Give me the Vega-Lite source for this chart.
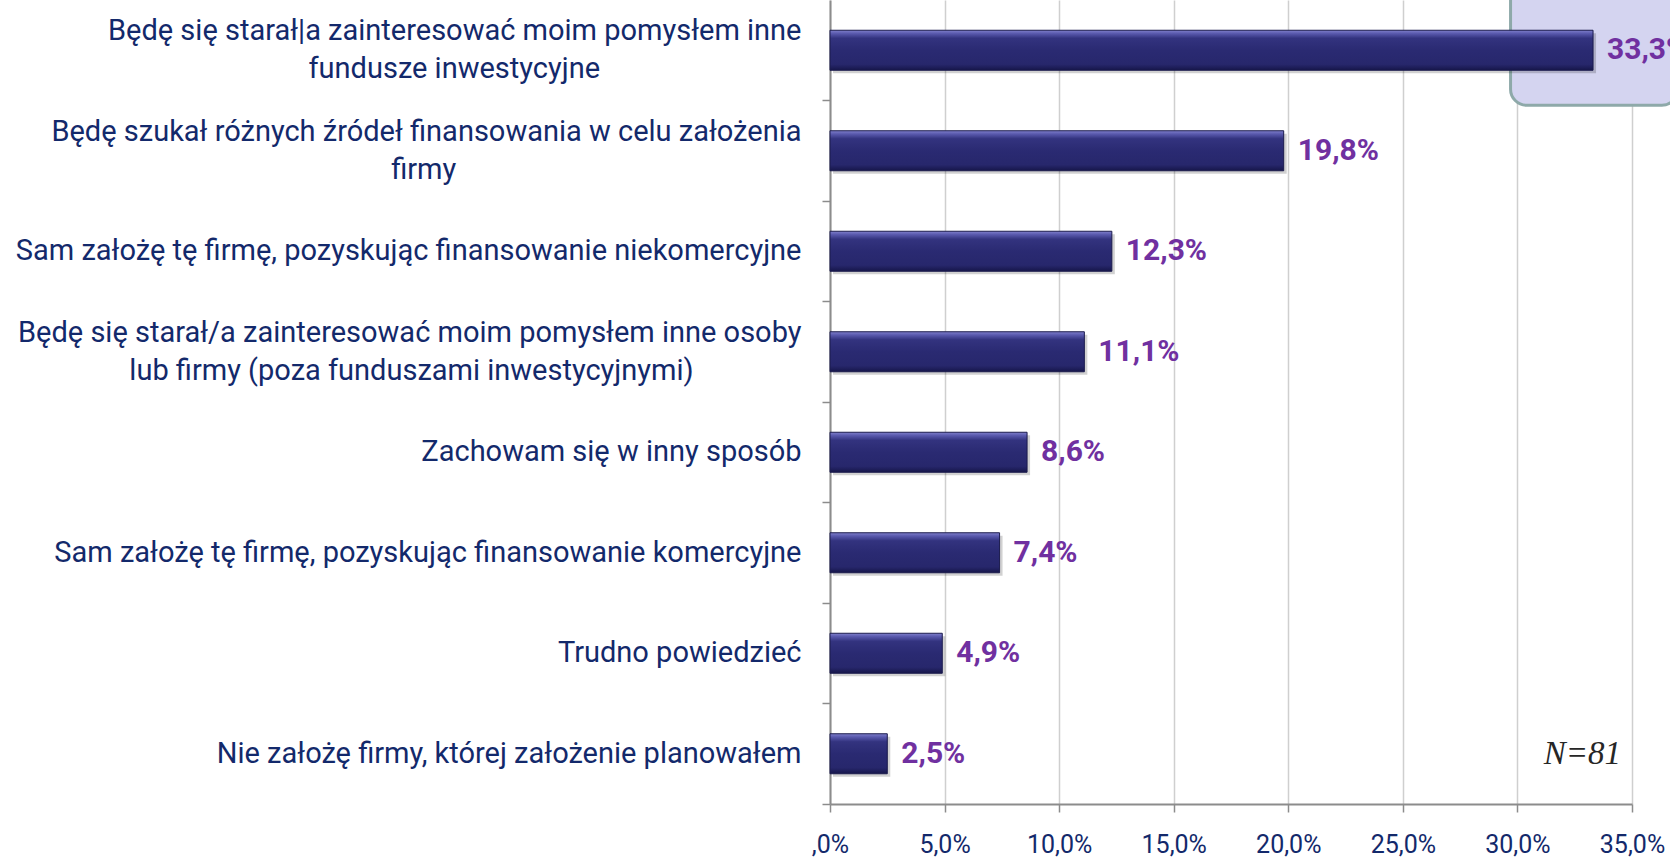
{
  "$schema": "https://vega.github.io/schema/vega-lite/v6.json",
  "width": 802,
  "height": 804,
  "autosize": "none",
  "padding": {"left": 830, "right": 38, "top": 0, "bottom": 56},
  "background": "white",
  "config": {
    "locale": {"number": {"decimal": ",", "thousands": " ", "grouping": [3], "currency": ["", " zł"]}},
    "view": {"stroke": null},
    "font": "Roboto"
  },
  "data": {
    "values": [
      {"answer": "Będę się starał|a zainteresować moim pomysłem inne\nfundusze inwestycyjne", "v": 0.333},
      {"answer": "Będę szukał różnych źródeł finansowania w celu założenia\nfirmy", "v": 0.198},
      {"answer": "Sam założę tę firmę, pozyskując finansowanie niekomercyjne", "v": 0.123},
      {"answer": "Będę się starał/a zainteresować moim pomysłem inne osoby\nlub firmy (poza funduszami inwestycyjnymi)", "v": 0.111},
      {"answer": "Zachowam się w inny sposób", "v": 0.086},
      {"answer": "Sam założę tę firmę, pozyskując finansowanie komercyjne", "v": 0.074},
      {"answer": "Trudno powiedzieć", "v": 0.049},
      {"answer": "Nie założę firmy, której założenie planowałem", "v": 0.025}
    ]
  },
  "layer": [
    {
      "data": {"values": [{}]},
      "mark": {"type": "bar", "height": 122, "yOffset": -6, "cornerRadius": 16, "fill": "#D4D4F0", "stroke": "#8EA9A9", "strokeWidth": 3},
      "encoding": {
        "x": {"datum": 0.297, "type": "quantitative"},
        "x2": {"datum": 0.37},
        "y": {"datum": "Będę się starał|a zainteresować moim pomysłem inne\nfundusze inwestycyjne", "type": "nominal", "axis": null}
      }
    },
    {
      "mark": {"type": "bar", "height": 40, "xOffset": 3, "yOffset": 3, "fill": "#000000", "opacity": 0.18},
      "encoding": {
        "x": {"field": "v", "type": "quantitative"},
        "y": {
          "field": "answer", "type": "nominal", "sort": null,
          "scale": {"paddingInner": 0, "paddingOuter": 0},
          "axis": {"orient": "left", "bandPosition": 1, "labels": false, "ticks": true, "tickSize": 8, "tickColor": "#8C8C8C", "tickWidth": 1.5, "domain": false, "grid": false, "title": null}
        }
      }
    },
    {
      "mark": {
        "type": "bar", "height": 40, "stroke": "#1B1B4D", "strokeWidth": 1,
        "fill": {
          "gradient": "linear", "x1": 0, "y1": 0, "x2": 0, "y2": 1,
          "stops": [
            {"offset": 0, "color": "#8080CC"},
            {"offset": 0.08, "color": "#5A5AAE"},
            {"offset": 0.2, "color": "#33337F"},
            {"offset": 0.5, "color": "#2A2A72"},
            {"offset": 0.85, "color": "#27276C"},
            {"offset": 1, "color": "#16164A"}
          ]
        }
      },
      "encoding": {
        "x": {
          "field": "v", "type": "quantitative",
          "scale": {"domain": [0, 0.35], "nice": false, "zero": true},
          "axis": {
            "values": [0, 0.05, 0.1, 0.15, 0.2, 0.25, 0.3, 0.35],
            "format": ".1%",
            "labelExpr": "datum.value == 0 ? ',0%' : datum.label",
            "labelFlush": false, "labelOverlap": false,
            "grid": true, "gridColor": "#CFCFCF", "gridWidth": 1.5,
            "domain": true, "domainColor": "#8C8C8C", "domainWidth": 2,
            "ticks": true, "tickColor": "#8C8C8C", "tickSize": 8, "tickWidth": 1.5,
            "labelFont": "Roboto", "labelFontSize": 25, "labelColor": "#13296B",
            "labelPadding": 20, "title": null, "orient": "bottom"
          }
        },
        "y": {
          "field": "answer", "type": "nominal", "sort": null,
          "axis": {
            "orient": "left", "ticks": false, "domain": true, "domainColor": "#8C8C8C", "domainWidth": 2,
            "labelFont": "Roboto", "labelFontSize": 29, "labelColor": "#13296B",
            "labelLimit": 1000, "labelPadding": 29, "labelLineHeight": 38,
            "labelOffset": {"condition": {"test": "indexof(datum.value, '\\n') >= 0", "value": -19}, "value": 0},
            "labelExpr": "length(split(datum.label, '\\n')) > 1 ? [split(datum.label, '\\n')[0], pad(split(datum.label, '\\n')[1], length(split(datum.label, '\\n')[1]) + round(0.9 * (length(split(datum.label, '\\n')[0]) - length(split(datum.label, '\\n')[1])) + 2), '\u00a0') + '\u200b'] : datum.label",
            "title": null
          }
        }
      }
    },
    {
      "mark": {"type": "text", "align": "left", "baseline": "middle", "dx": 14, "font": "Roboto", "fontSize": 30, "fontWeight": "bold", "color": "#7030A0"},
      "encoding": {
        "x": {"field": "v", "type": "quantitative"},
        "y": {"field": "answer", "type": "nominal", "sort": null, "axis": null},
        "text": {"field": "v", "type": "quantitative", "format": ".1%"}
      }
    },
    {
      "data": {"values": [{}]},
      "mark": {"type": "text", "text": "N=81", "align": "right", "baseline": "middle", "dx": -11, "font": "Liberation Serif", "fontStyle": "italic", "fontSize": 33, "color": "#262626"},
      "encoding": {
        "x": {"datum": 0.35, "type": "quantitative"},
        "y": {"datum": "Nie założę firmy, której założenie planowałem", "type": "nominal", "axis": null}
      }
    }
  ],
  "resolve": {"axis": {"y": "independent"}}
}
